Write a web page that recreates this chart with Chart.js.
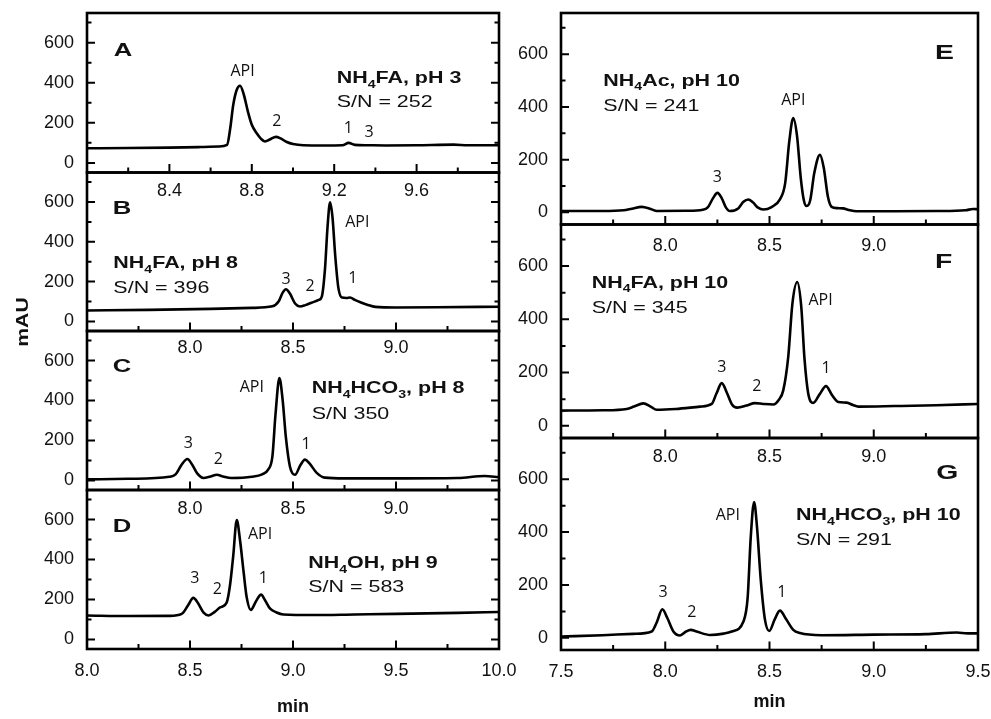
<!DOCTYPE html>
<html>
<head>
<meta charset="utf-8">
<script src="https://cdn.jsdelivr.net/npm/chart.js@4.4.0/dist/chart.umd.min.js"></script>
<style>
  body { margin: 0; background: #fff; width: 991px; height: 719px; overflow: hidden; position: relative; }
  canvas { position: absolute; left: 0; top: 0; }
</style>
</head>
<body>
<script>
// ---- chromatogram data (min, mAU) ----
const aTime = [8.00, 8.20, 8.40, 8.55, 8.64, 8.68, 8.695, 8.71, 8.727, 8.743, 8.76, 8.783, 8.80, 8.824, 8.845, 8.864, 8.89, 8.917, 8.94, 8.97, 9.00, 9.05, 9.15, 9.24, 9.27, 9.30, 9.36, 9.45, 9.60, 9.78, 9.85, 10.00];
const aMAU  = [73, 74, 76, 79, 82, 90, 170, 290, 365, 385, 345, 248, 190, 148, 120, 107, 118, 130, 122, 104, 94, 88, 87, 88, 100, 90, 88, 87, 88, 91, 88, 88];

const bTime = [7.50, 7.80, 8.10, 8.30, 8.40, 8.43, 8.45, 8.466, 8.485, 8.51, 8.534, 8.56, 8.59, 8.625, 8.64, 8.655, 8.668, 8.68, 8.692, 8.705, 8.72, 8.738, 8.76, 8.777, 8.80, 8.83, 8.86, 8.90, 9.00, 9.20, 9.50];
const bMAU  = [55, 58, 63, 68, 76, 100, 145, 162, 140, 90, 75, 82, 94, 108, 125, 260, 480, 598, 520, 330, 170, 120, 118, 120, 108, 95, 84, 73, 70, 71, 74];

const cTime = [7.50, 7.70, 7.90, 7.93, 7.96, 7.987, 8.01, 8.035, 8.065, 8.10, 8.13, 8.16, 8.20, 8.30, 8.35, 8.38, 8.40, 8.415, 8.434, 8.45, 8.465, 8.485, 8.51, 8.535, 8.558, 8.58, 8.615, 8.655, 8.75, 9.00, 9.30, 9.43, 9.50];
const cMAU  = [5, 8, 18, 30, 80, 107, 80, 35, 12, 20, 28, 20, 12, 18, 30, 55, 120, 330, 512, 400, 220, 70, 28, 75, 104, 85, 38, 14, 10, 10, 12, 22, 16];

const dTime = [8.00, 8.20, 8.40, 8.46, 8.49, 8.516, 8.54, 8.565, 8.59, 8.62, 8.646, 8.678, 8.694, 8.71, 8.727, 8.743, 8.76, 8.775, 8.795, 8.82, 8.845, 8.865, 8.888, 8.92, 8.953, 9.10, 9.30, 9.50, 9.80, 10.00];
const dMAU  = [120, 117, 118, 128, 170, 208, 180, 135, 120, 138, 160, 185, 270, 420, 598, 495, 340, 212, 148, 190, 224, 195, 155, 135, 125, 122, 125, 128, 133, 137];

const eTime = [7.50, 7.70, 7.80, 7.84, 7.887, 7.93, 7.96, 8.10, 8.18, 8.205, 8.23, 8.25, 8.27, 8.29, 8.31, 8.35, 8.375, 8.398, 8.42, 8.445, 8.47, 8.51, 8.55, 8.575, 8.595, 8.614, 8.632, 8.65, 8.665, 8.678, 8.695, 8.715, 8.742, 8.76, 8.78, 8.798, 8.825, 8.853, 8.88, 8.918, 9.10, 9.30, 9.44, 9.476, 9.50];
const eMAU  = [5, 5, 8, 14, 21, 13, 5, 6, 10, 20, 55, 74, 55, 20, 5, 15, 40, 49, 38, 18, 11, 20, 49, 110, 270, 358, 290, 130, 45, 24, 45, 150, 218, 170, 60, 21, 16, 15, 9, 4, 4, 5, 8, 13, 12];

const fTime = [7.50, 7.70, 7.815, 7.85, 7.895, 7.93, 7.959, 8.05, 8.167, 8.223, 8.245, 8.271, 8.295, 8.32, 8.345, 8.39, 8.43, 8.47, 8.518, 8.545, 8.566, 8.59, 8.61, 8.633, 8.652, 8.668, 8.686, 8.71, 8.74, 8.771, 8.80, 8.83, 8.87, 8.90, 8.926, 9.10, 9.30, 9.50];
const fMAU  = [57, 58, 63, 72, 84, 72, 60, 63, 72, 82, 120, 160, 125, 80, 68, 76, 85, 82, 80, 98, 133, 260, 460, 540, 450, 250, 120, 86, 118, 149, 115, 89, 87, 78, 72, 74, 77, 82];

const gTime = [7.50, 7.70, 7.847, 7.935, 7.96, 7.986, 8.01, 8.039, 8.071, 8.10, 8.122, 8.15, 8.215, 8.28, 8.319, 8.375, 8.395, 8.41, 8.426, 8.44, 8.458, 8.478, 8.499, 8.525, 8.55, 8.58, 8.614, 8.646, 8.75, 9.00, 9.25, 9.398, 9.45, 9.50];
const gMAU  = [5, 10, 15, 24, 60, 108, 75, 24, 9, 24, 30, 24, 11, 16, 24, 62, 150, 380, 514, 420, 220, 70, 26, 70, 103, 70, 30, 18, 10, 12, 14, 20, 17, 17];

// ---- tick values ----
const yTicks = [0, 200, 400, 600];
const yMinor = [100, 300, 500, 700];
const aXTicks = [8.4, 8.8, 9.2, 9.6];
const aXMinor = [8.2, 8.6, 9.0, 9.4, 9.8];
const bcXTicks = [8.0, 8.5, 9.0];
const bcXMinor = [7.75, 8.25, 8.75, 9.25];
const dXTicks = [8.0, 8.5, 9.0, 9.5, 10.0];
const dXMinor = [8.25, 8.75, 9.25, 9.75];
const efXTicks = [8.0, 8.5, 9.0];
const gXTicks = [7.5, 8.0, 8.5, 9.0, 9.5];
const rXMinor = [7.75, 8.25, 8.75, 9.25];

// ---- annotations: [text, min, mAU, style, align]  ("_" marks a subscript char) ----
const aLabels = [['A', 8.13, 531, 'letter', 'left'], ['API', 8.755, 432, 'peak', 'center'], ['2', 8.921, 182, 'peak', 'center'],
  ['1', 9.269, 148, 'peak', 'center'], ['3', 9.369, 128, 'peak', 'center'],
  ['NH_4FA, pH 3', 9.212, 398, 'cond', 'left'], ['S/N = 252', 9.212, 278, 'sn', 'left']];
const bLabels = [['B', 7.625, 539, 'letter', 'left'], ['API', 8.812, 472, 'peak', 'center'], ['3', 8.466, 188, 'peak', 'center'],
  ['2', 8.583, 152, 'peak', 'center'], ['1', 8.79, 192, 'peak', 'center'],
  ['NH_4FA, pH 8', 7.628, 268, 'cond', 'left'], ['S/N = 396', 7.628, 142, 'sn', 'left']];
const cLabels = [['C', 7.625, 542, 'letter', 'left'], ['API', 8.30, 442, 'peak', 'center'], ['3', 7.992, 160, 'peak', 'center'],
  ['2', 8.137, 80, 'peak', 'center'], ['1', 8.563, 158, 'peak', 'center'],
  ['NH_4HCO_3, pH 8', 8.591, 438, 'cond', 'left'], ['S/N 350', 8.591, 308, 'sn', 'left']];
const dLabels = [['D', 8.125, 537, 'letter', 'left'], ['API', 8.84, 503, 'peak', 'center'], ['3', 8.524, 282, 'peak', 'center'],
  ['2', 8.633, 225, 'peak', 'center'], ['1', 8.856, 282, 'peak', 'center'],
  ['NH_4OH, pH 9', 9.074, 358, 'cond', 'left'], ['S/N = 583', 9.074, 237, 'sn', 'left']];
const eLabels = [['E', 9.385, 580, 'letterR', 'right'], ['NH_4Ac, pH 10', 7.703, 480, 'cond', 'left'], ['S/N = 241', 7.703, 386, 'sn', 'left'],
  ['API', 8.614, 409, 'peak', 'center'], ['3', 8.25, 114, 'peak', 'center']];
const fLabels = [['F', 9.377, 594, 'letterR', 'right'], ['NH_4FA, pH 10', 7.647, 518, 'cond', 'left'], ['S/N = 345', 7.647, 423, 'sn', 'left'],
  ['API', 8.745, 455, 'peak', 'center'], ['3', 8.271, 202, 'peak', 'center'], ['2', 8.439, 130, 'peak', 'center'], ['1', 8.771, 198, 'peak', 'center']];
const gLabels = [['G', 9.406, 602, 'letterR', 'right'], ['NH_4HCO_3, pH 10', 8.627, 445, 'cond', 'left'], ['S/N = 291', 8.627, 351, 'sn', 'left'],
  ['API', 8.30, 445, 'peak', 'center'], ['3', 7.99, 156, 'peak', 'center'], ['2', 8.127, 78, 'peak', 'center'], ['1', 8.559, 156, 'peak', 'center']];

// text looks (the original figure was stretched sideways)
const textStyles = {
  letter:  { font: 'bold SIZEpx "Liberation Sans", Arial, sans-serif', size: 19, sx: 1.35 },
  letterR: { font: 'bold SIZEpx "Liberation Sans", Arial, sans-serif', size: 21, sx: 1.35 },
  cond:    { font: 'bold SIZEpx "Liberation Sans", Arial, sans-serif', size: 16.5, sx: 1.3 },
  sn:      { font: 'SIZEpx "Liberation Sans", Arial, sans-serif', size: 16.5, sx: 1.3 },
  peak:    { font: 'SIZEpx "Open Sans", sans-serif', size: 16, sx: 1.0 }
};

const W = 991, H = 719;
const TICK_FONT = { family: '"Liberation Sans", Arial, sans-serif', size: 18 };

// panel layout: box = [left, top, right, bottom] of the plot area in page pixels
const panels = [
  { t: aTime, v: aMAU, xr: [8.0, 10.0], xt: aXTicks, xm: aXMinor, labels: aLabels, box: [87, 13, 499, 172.5], yr: [-48, 748], pad: 7.5, rightTicks: true },
  { t: bTime, v: bMAU, xr: [7.5, 9.5], xt: bcXTicks, xm: bcXMinor, labels: bLabels, box: [87, 172.5, 499, 331], yr: [-48, 748], pad: 6.5, rightTicks: true, mAU: true },
  { t: cTime, v: cMAU, xr: [7.5, 9.5], xt: bcXTicks, xm: bcXMinor, labels: cLabels, box: [87, 331, 499, 490], yr: [-48, 748], pad: 8.5, rightTicks: true },
  { t: dTime, v: dMAU, xr: [8.0, 10.0], xt: dXTicks, xm: dXMinor, labels: dLabels, box: [87, 490, 499, 649], yr: [-48, 748], pad: 11.5, rightTicks: true, title: 'min', titlePad: 1 },
  { t: eTime, v: eMAU, xr: [7.5, 9.5], xt: efXTicks, xm: rXMinor, labels: eLabels, box: [561, 13, 978, 224.5], yr: [-46, 756], pad: 10.5, rightTicks: false },
  { t: fTime, v: fMAU, xr: [7.5, 9.5], xt: efXTicks, xm: rXMinor, labels: fLabels, box: [561, 224.5, 978, 438], yr: [-46, 756], pad: 8, rightTicks: false },
  { t: gTime, v: gMAU, xr: [7.5, 9.5], xt: gXTicks, xm: rXMinor, labels: gLabels, box: [561, 438, 978, 650], yr: [-46, 756], pad: 11, rightTicks: false, title: 'min', titlePad: 6 }
];

function drawRich(ctx, str, x, y, st, align) {
  const parts = [];
  for (let i = 0; i < str.length; i++) {
    if (str[i] === '_') { parts.push({ s: str[i + 1], sub: true }); i++; }
    else if (parts.length && !parts[parts.length - 1].sub) parts[parts.length - 1].s += str[i];
    else parts.push({ s: str[i], sub: false });
  }
  const subSize = st.size * 0.66;
  let w = 0;
  parts.forEach(p => {
    ctx.font = st.font.replace('SIZE', p.sub ? subSize : st.size);
    p.w = ctx.measureText(p.s).width;
    w += p.w;
  });
  ctx.save();
  ctx.translate(x, y);
  ctx.scale(st.sx, 1);
  ctx.textAlign = 'left';
  ctx.textBaseline = 'alphabetic';
  ctx.fillStyle = '#111';
  let cx = align === 'center' ? -w / 2 : (align === 'right' ? -w : 0);
  parts.forEach(p => {
    ctx.font = st.font.replace('SIZE', p.sub ? subSize : st.size);
    ctx.fillText(p.s, cx, p.sub ? st.size * 0.28 : 0);
    cx += p.w;
  });
  ctx.restore();
}

function framePlugin(p) {
  return {
    id: 'frame',
    afterDatasetsDraw(chart) {
      const { ctx, chartArea: a, scales: { x, y } } = chart;
      ctx.save();
      ctx.strokeStyle = '#000';
      ctx.lineWidth = 2;
      ctx.beginPath();
      const yt = (vals, len) => vals.forEach(v => {
        const py = y.getPixelForValue(v);
        ctx.moveTo(a.left, py); ctx.lineTo(a.left + len, py);
        if (p.rightTicks) { ctx.moveTo(a.right, py); ctx.lineTo(a.right - len, py); }
      });
      const xt = (vals, len) => vals.forEach(v => {
        if (v <= p.xr[0] || v >= p.xr[1]) return;
        const px = x.getPixelForValue(v);
        ctx.moveTo(px, a.bottom); ctx.lineTo(px, a.bottom - len);
      });
      yt(yTicks, 8); yt(yMinor, 4.5);
      xt(p.xt, 8.5); xt(p.xm, 5);
      ctx.stroke();
      ctx.lineWidth = 2.6;
      ctx.strokeRect(a.left, a.top, a.right - a.left, a.bottom - a.top);
      p.labels.forEach(l => {
        drawRich(ctx, l[0], x.getPixelForValue(l[1]), y.getPixelForValue(l[2]), textStyles[l[3]], l[4]);
      });
      if (p.mAU) {
        ctx.translate(22, 322);
        ctx.rotate(-Math.PI / 2);
        drawRich(ctx, 'mAU', 0, 6, { font: 'bold SIZEpx "Liberation Sans", Arial, sans-serif', size: 17, sx: 1.25 }, 'center');
      }
      ctx.restore();
    }
  };
}

panels.forEach(p => {
  const c = document.createElement('canvas');
  c.width = W; c.height = H;
  c.style.width = W + 'px'; c.style.height = H + 'px';
  document.body.appendChild(c);
  const [L, T, R, B] = p.box;
  const xH = p.title ? H - B : 40;
  const yW = 60;
  new Chart(c, {
    type: 'line',
    data: {
      datasets: [{
        data: p.t.map((t, i) => ({ x: t, y: p.v[i] })),
        borderColor: '#000',
        borderWidth: 2.6,
        pointRadius: 0,
        fill: false,
        cubicInterpolationMode: 'monotone'
      }]
    },
    options: {
      responsive: false,
      animation: false,
      events: [],
      layout: { padding: { left: L - yW, top: T, right: W - R, bottom: H - B - xH } },
      plugins: { legend: { display: false }, tooltip: { enabled: false } },
      scales: {
        x: {
          type: 'linear',
          position: 'bottom',
          min: p.xr[0],
          max: p.xr[1],
          grid: { display: false, drawTicks: false },
          border: { display: false },
          afterBuildTicks: s => { s.ticks = p.xt.map(v => ({ value: v })); },
          afterFit: s => { s.height = xH; s.paddingLeft = 0; s.paddingRight = 0; s.paddingTop = 0; s.paddingBottom = 0; },
          ticks: {
            autoSkip: false, maxRotation: 0, padding: p.pad, color: '#111', font: TICK_FONT,
            callback: v => Number(v).toFixed(1)
          },
          title: {
            display: !!p.title, text: p.title || '', color: '#111',
            font: { family: '"Liberation Sans", Arial, sans-serif', size: 18, weight: 'bold' },
            padding: { top: 0, bottom: p.titlePad || 0 }
          }
        },
        y: {
          type: 'linear',
          position: 'left',
          min: p.yr[0],
          max: p.yr[1],
          grid: { display: false, drawTicks: false },
          border: { display: false },
          afterBuildTicks: s => { s.ticks = yTicks.map(v => ({ value: v })); },
          afterFit: s => { s.width = yW; s.paddingLeft = 0; s.paddingRight = 0; s.paddingTop = 0; s.paddingBottom = 0; },
          ticks: { padding: 13, color: '#111', font: TICK_FONT }
        }
      }
    },
    plugins: [framePlugin(p)]
  });
});
</script>
</body>
</html>
